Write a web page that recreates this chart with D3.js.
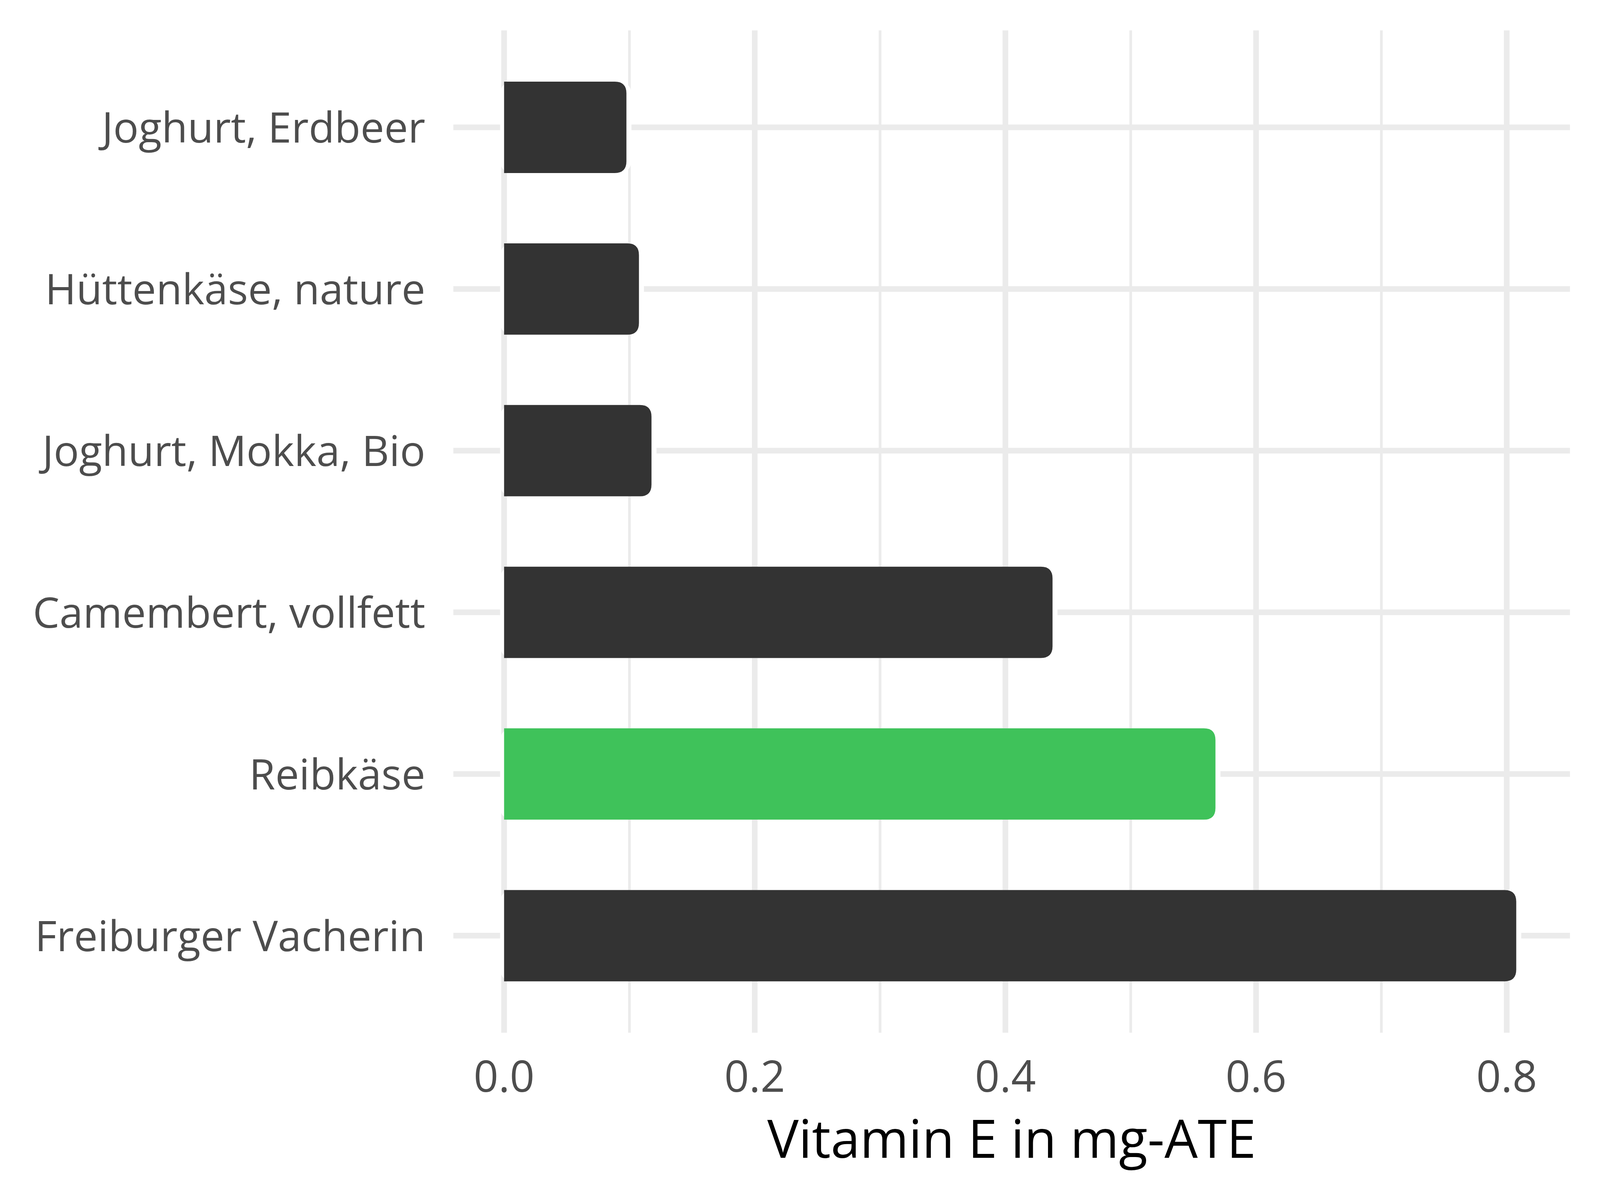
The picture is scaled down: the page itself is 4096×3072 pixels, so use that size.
<!DOCTYPE html>
<html>
<head>
<meta charset="utf-8">
<script src="https://cdn.jsdelivr.net/npm/d3@7"></script>
<style>
  html, body { margin: 0; padding: 0; background: #ffffff; }
  svg { display: block; }
</style>
</head>
<body>
<script>
// ---- data ----
const categories = ["Joghurt, Erdbeer", "Hüttenkäse, nature", "Joghurt, Mokka, Bio",
                    "Camembert, vollfett", "Reibkäse", "Freiburger Vacherin"];
const values = [0.10, 0.11, 0.12, 0.44, 0.57, 0.81];
const highlight = [false, false, false, false, true, false];
const xTicks = [0.0, 0.2, 0.4, 0.6, 0.8];
const xMinorTicks = [0.1, 0.3, 0.5, 0.7];
const xTitle = "Vitamin E in mg-ATE";

// ---- layout (reference coordinates 4800x3600, scaled by viewBox) ----
const W = 4800, H = 3600;
const panel = { left: 1360, right: 4710, top: 91, bottom: 3098 };
const font = "'Open Sans', 'Noto Sans', sans-serif";

const svg = d3.select("body").append("svg")
  .attr("width", 4096).attr("height", 3072)
  .attr("viewBox", `0 0 ${W} ${H}`);

svg.append("rect").attr("width", W).attr("height", H).attr("fill", "#ffffff");

const maxV = d3.max(values);
const x = d3.scaleLinear()
  .domain([-0.05 * maxV, maxV * 1.05])
  .range([panel.left, panel.right]);

const y = d3.scalePoint()
  .domain(categories)
  .range([panel.top, panel.bottom])
  .padding(0.6);

const step = y.step();
const barH = step * 0.565;

// grid
const grid = svg.append("g");
grid.selectAll("line.minor").data(xMinorTicks).join("line")
  .attr("x1", d => x(d)).attr("x2", d => x(d))
  .attr("y1", panel.top).attr("y2", panel.bottom)
  .attr("stroke", "#EBEBEB").attr("stroke-width", 8);
grid.selectAll("line.major").data(xTicks).join("line")
  .attr("x1", d => x(d)).attr("x2", d => x(d))
  .attr("y1", panel.top).attr("y2", panel.bottom)
  .attr("stroke", "#EBEBEB").attr("stroke-width", 17);
grid.selectAll("line.hy").data(categories).join("line")
  .attr("x1", panel.left).attr("x2", panel.right)
  .attr("y1", d => y(d)).attr("y2", d => y(d))
  .attr("stroke", "#EBEBEB").attr("stroke-width", 17);

const rows = categories.map((c, i) => ({ c, v: values[i], hl: highlight[i] }));

// white halo behind bars
const r = 35;
svg.append("g").selectAll("rect").data(rows).join("rect")
  .attr("x", x(0) - 12)
  .attr("y", d => y(d.c) - barH / 2)
  .attr("width", d => x(d.v) - x(0) + 18)
  .attr("height", barH)
  .attr("rx", r).attr("ry", r)
  .attr("fill", "#ffffff");

// bars: square left corners, rounded right corners
function barPath(d) {
  const x0 = x(0), x1 = x(d.v) - 9;
  const y0 = y(d.c) - barH / 2, y1 = y(d.c) + barH / 2;
  const rr = Math.min(r, (x1 - x0) / 2);
  return `M${x0},${y0} L${x1 - rr},${y0} Q${x1},${y0} ${x1},${y0 + rr} ` +
         `L${x1},${y1 - rr} Q${x1},${y1} ${x1 - rr},${y1} L${x0},${y1} Z`;
}
svg.append("g").selectAll("path").data(rows).join("path")
  .attr("d", barPath)
  .attr("fill", d => d.hl ? "#3FC25A" : "#333333");

// y labels
svg.append("g").selectAll("text").data(categories).join("text")
  .attr("x", 1276)
  .attr("y", d => y(d) + 46)
  .attr("text-anchor", "end")
  .attr("font-family", font)
  .attr("font-size", 127)
  .attr("fill", "#4D4D4D")
  .text(d => d);

// x tick labels
svg.append("g").selectAll("text").data(xTicks).join("text")
  .attr("x", d => x(d))
  .attr("y", 3275)
  .attr("text-anchor", "middle")
  .attr("font-family", font)
  .attr("font-size", 130)
  .attr("fill", "#4D4D4D")
  .text(d => d3.format(".1f")(d));

// x title
svg.append("text")
  .attr("x", (panel.left + panel.right) / 2)
  .attr("y", 3473)
  .attr("text-anchor", "middle")
  .attr("font-family", font)
  .attr("font-size", 158)
  .attr("fill", "#000000")
  .text(xTitle);
</script>
</body>
</html>
